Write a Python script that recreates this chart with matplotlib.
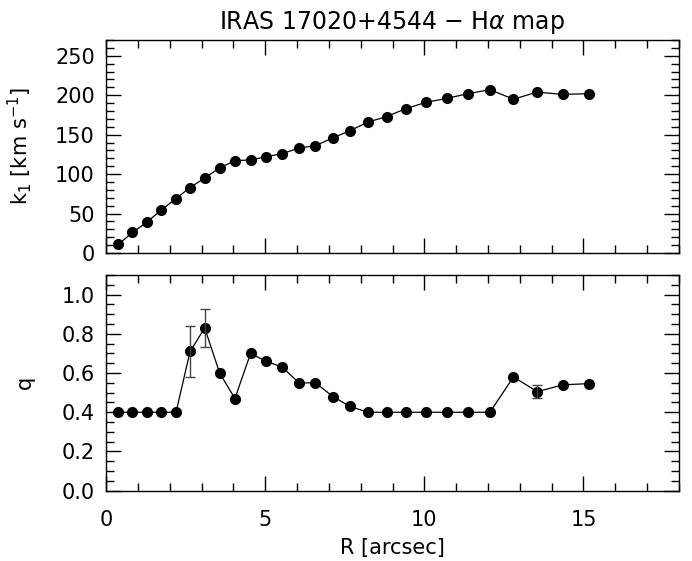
import numpy as np
import matplotlib.pyplot as plt
from matplotlib.ticker import MultipleLocator

plt.rcParams['font.family'] = ['DejaVu Sans']
plt.rcParams['mathtext.fontset'] = 'dejavusans'

# radius [arcsec]
r = [0.39, 0.83, 1.28, 1.72, 2.20, 2.64, 3.10, 3.57, 4.05, 4.54, 5.03, 5.54,
     6.06, 6.58, 7.13, 7.66, 8.23, 8.82, 9.42, 10.05, 10.71, 11.37, 12.06,
     12.80, 13.55, 14.35, 15.17]

# k1 [km/s]
k1 = [11, 26, 39, 54, 69, 83, 95, 108, 117, 118, 122, 126, 133, 136, 146,
      155, 166, 173, 183, 191, 196, 202, 207, 195, 204, 201, 202]

# q and its error
q = [0.40, 0.40, 0.40, 0.40, 0.40, 0.71, 0.83, 0.60, 0.47, 0.70, 0.66, 0.63,
     0.55, 0.55, 0.48, 0.43, 0.40, 0.40, 0.40, 0.40, 0.40, 0.40, 0.40,
     0.58, 0.505, 0.54, 0.546]
q_err = [0, 0, 0, 0, 0, 0.13, 0.096, 0, 0, 0, 0, 0, 0, 0, 0, 0, 0, 0, 0, 0,
         0, 0, 0, 0, 0.034, 0, 0]

fig = plt.figure(figsize=(6.92, 5.61), dpi=100)
ax1 = fig.add_axes([0.1532, 0.549, 0.828, 0.3797])
ax2 = fig.add_axes([0.1532, 0.1253, 0.828, 0.3845])

ax1.plot(r, k1, color="black", lw=0.9, marker="o", ms=7, mfc="black", mec="black")
ax1.set_ylim(0, 270)
ax1.set_yticks([0, 50, 100, 150, 200, 250])
ax1.yaxis.set_minor_locator(MultipleLocator(10))
ax1.set_ylabel(r"k$_1$ [km s$^{-1}$]", fontsize=15)
ax1.set_title(r"IRAS 17020+4544 $-$ H$\alpha$ map", fontsize=17, pad=8)
ax1.tick_params(labelbottom=False)

q_arr = np.array(q)
err = np.array(q_err)
mask = err > 0
ax2.plot(r, q, color="black", lw=0.9, marker="o", ms=7, mfc="black", mec="black")
ax2.errorbar(np.array(r)[mask], q_arr[mask], yerr=err[mask], fmt="none",
             ecolor="#444444", elinewidth=1.0, capsize=3.5, capthick=1.0)
ax2.set_ylim(0, 1.1)
ax2.set_yticks([0.0, 0.2, 0.4, 0.6, 0.8, 1.0])
ax2.set_yticklabels(["0.0", "0.2", "0.4", "0.6", "0.8", "1.0"])
ax2.yaxis.set_minor_locator(MultipleLocator(0.05))
ax2.set_ylabel("q", fontsize=15)
ax2.set_xlabel("R [arcsec]", fontsize=15, labelpad=6)

for ax in (ax1, ax2):
    ax.set_xlim(0, 18)
    ax.set_xticks([0, 5, 10, 15])
    ax.xaxis.set_minor_locator(MultipleLocator(1))
    ax.tick_params(which="both", direction="in", top=True, right=True,
                   labelsize=15, width=1.0)
    ax.tick_params(which="major", length=11, pad=8)
    ax.tick_params(which="minor", length=6)
    ax.tick_params(axis="x", which="major", pad=14)
    for s in ax.spines.values():
        s.set_linewidth(1.0)

ax1.yaxis.set_label_coords(-0.125, 0.5)
ax2.yaxis.set_label_coords(-0.125, 0.5)

fig.savefig("out.png", dpi=100)
